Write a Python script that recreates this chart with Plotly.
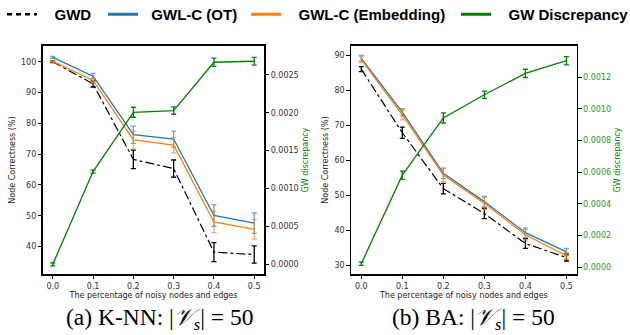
import plotly.graph_objects as go

# ---------------- data ----------------
x_noise = [0.0, 0.1, 0.2, 0.3, 0.4, 0.5]
x_ticks = [0.0, 0.1, 0.2, 0.3, 0.4, 0.5]
x_ticklabels = ["0.0", "0.1", "0.2", "0.3", "0.4", "0.5"]

# (a) K-NN
knn_gwd = [100.0, 92.8, 68.3, 65.3, 38.2, 37.4]
knn_gwd_err = [0.3, 1.0, 3.0, 2.8, 3.1, 2.8]
knn_ot = [101.4, 95.3, 76.3, 74.9, 50.1, 47.6]
knn_ot_err = [0.3, 0.9, 2.8, 2.6, 3.5, 3.3]
knn_emb = [100.1, 93.9, 74.6, 72.9, 48.0, 45.6]
knn_emb_err = [0.3, 0.8, 2.9, 2.5, 3.5, 3.2]
knn_disc = [0.0, 0.001224, 0.002006, 0.002028, 0.002666, 0.002679]
knn_disc_err = [0.00002, 0.00002, 0.000066, 0.000048, 0.000055, 0.00005]

# (b) BA
ba_gwd = [86.1, 67.9, 51.9, 44.8, 36.2, 32.2]
ba_gwd_err = [0.7, 1.6, 1.5, 1.5, 1.4, 1.0]
ba_ot = [89.2, 73.8, 56.3, 48.2, 39.3, 33.8]
ba_ot_err = [0.8, 1.0, 1.5, 1.5, 1.4, 1.0]
ba_emb = [88.8, 73.0, 55.8, 47.7, 38.7, 32.7]
ba_emb_err = [0.8, 1.4, 1.9, 1.7, 1.5, 1.0]
ba_disc = [0.000021, 0.000581, 0.000943, 0.00109, 0.001225, 0.001305]
ba_disc_err = [0.00001, 0.000026, 0.000032, 0.000023, 0.000026, 0.000026]

knn_y_ticks = [40, 50, 60, 70, 80, 90, 100]
knn_y2_ticks = [0.0, 0.0005, 0.0010, 0.0015, 0.0020, 0.0025]
ba_y_ticks = [30, 40, 50, 60, 70, 80, 90]
ba_y2_ticks = [0.0, 0.0002, 0.0004, 0.0006, 0.0008, 0.0010, 0.0012]

series_names = ["GWD", "GWL-C (OT)", "GWL-C (Embedding)", "GW Discrepancy"]
captions = ["(a) K-NN: |<i>𝒱</i><sub><i>s</i></sub>| = 50", "(b) BA: |<i>𝒱</i><sub><i>s</i></sub>| = 50"]

# ---------------- style ----------------
BLUE = "#1f77b4"
ORANGE = "#ff7f0e"
GREEN = "#008000"
TICKFONT = dict(family="DejaVu Sans", size=8, color="#333333")

fig = go.Figure()


def add_panel(xa, ya, ya2, gwd, gwd_e, ot, ot_e, emb, emb_e, disc, disc_e):
    common = dict(x=x_noise, xaxis=xa, showlegend=False, mode="lines", hoverinfo="skip")
    fig.add_trace(go.Scatter(**common, y=gwd, yaxis=ya,
                             line=dict(color="black", width=1.2, dash="dashdot"),
                             error_y=dict(type="data", array=gwd_e, color="black",
                                          thickness=1.3, width=2.5)))
    fig.add_trace(go.Scatter(**common, y=ot, yaxis=ya,
                             line=dict(color=BLUE, width=1.3),
                             error_y=dict(type="data", array=ot_e, color="rgba(31,119,180,0.65)",
                                          thickness=1.3, width=2.5)))
    fig.add_trace(go.Scatter(**common, y=emb, yaxis=ya,
                             line=dict(color=ORANGE, width=1.3),
                             error_y=dict(type="data", array=emb_e, color="rgba(255,127,14,0.65)",
                                          thickness=1.3, width=2.5)))
    fig.add_trace(go.Scatter(**common, y=disc, yaxis=ya2,
                             line=dict(color=GREEN, width=1.3),
                             error_y=dict(type="data", array=disc_e, color=GREEN,
                                          thickness=1.3, width=2.5)))


add_panel("x", "y", "y2", knn_gwd, knn_gwd_err, knn_ot, knn_ot_err,
          knn_emb, knn_emb_err, knn_disc, knn_disc_err)
add_panel("x2", "y3", "y4", ba_gwd, ba_gwd_err, ba_ot, ba_ot_err,
          ba_emb, ba_emb_err, ba_disc, ba_disc_err)

# legend-only entries (shared legend at the top)
legend_styles = [
    dict(color="black", width=2.5, dash="5px,4px"),
    dict(color=BLUE, width=3),
    dict(color=ORANGE, width=3),
    dict(color=GREEN, width=3),
]
legend_ids = ["legend", "legend2", "legend3", "legend4"]
legend_pad = [3, 2, 3, 3]  # non-breaking spaces between symbol and text
for name, st, lid, pad in zip(series_names, legend_styles, legend_ids, legend_pad):
    fig.add_trace(go.Scatter(x=[None], y=[None], mode="lines", name="\u00a0" * pad + name,
                             line=st, xaxis="x", yaxis="y", showlegend=True, legend=lid))

W, H = 630, 335
legend_x_px = [2, 103, 246, 456]
leg_font = dict(family="Liberation Sans", size=15, color="black", weight="bold")
legends = {}
for lid, px in zip(legend_ids, legend_x_px):
    legends[lid] = dict(x=px / W, y=(H - 14.5) / H, xanchor="left", yanchor="middle",
                        orientation="h", font=leg_font, bgcolor="rgba(0,0,0,0)",
                        borderwidth=0, itemwidth=30, itemclick=False, itemdoubleclick=False)

dom_y = [(H - 274.3) / H, (H - 45.7) / H]
ax_common = dict(showline=True, linecolor="black", linewidth=1.3, mirror=False,
                 ticks="outside", ticklen=3.5, tickwidth=1, tickcolor="black",
                 tickfont=TICKFONT, showgrid=False, zeroline=False, automargin=False)

x_common = dict(ax_common, range=[-0.025, 0.525], tickvals=x_ticks, ticktext=x_ticklabels,
                mirror=True,
                title=dict(text="The percentage of noisy nodes and edges",
                           font=dict(family="DejaVu Sans", size=8, color="#222222"),
                           standoff=2))

fig.update_layout(
    width=W, height=H, margin=dict(l=0, r=0, t=0, b=0, autoexpand=False),
    plot_bgcolor="white", paper_bgcolor="white",
    **legends,
    xaxis=dict(x_common, domain=[42.7 / W, 264.3 / W], anchor="y"),
    xaxis2=dict(x_common, domain=[351 / W, 576.7 / W], anchor="y3"),
    yaxis=dict(ax_common, domain=dom_y, anchor="x", range=[31.0, 105.2],
               tickvals=knn_y_ticks, mirror=True,
               title=dict(text="Node Correctness (%)", standoff=4,
                          font=dict(family="DejaVu Sans", size=8, color="#222222"))),
    yaxis2=dict(ax_common, overlaying="y", side="right", anchor="x",
                range=[-0.000131, 0.002884], tickvals=knn_y2_ticks, tickformat=".4f",
                title=dict(text="GW discrepancy", standoff=4,
                           font=dict(family="DejaVu Sans", size=8, color=GREEN))),
    yaxis3=dict(ax_common, domain=dom_y, anchor="x2", range=[27.4, 92.8],
                tickvals=ba_y_ticks, mirror=True,
                title=dict(text="Node Correctness (%)", standoff=4,
                           font=dict(family="DejaVu Sans", size=8, color="#222222"))),
    yaxis4=dict(ax_common, overlaying="y3", side="right", anchor="x2",
                range=[-0.000046, 0.0014], tickvals=ba_y2_ticks, tickformat=".4f",
                tickfont=dict(family="DejaVu Sans", size=8, color="#1f9a1f"),
                title=dict(text="GW discrepancy", standoff=4,
                           font=dict(family="DejaVu Sans", size=8, color=GREEN))),
)

for cap, cx in zip(captions, [159, 473]):
    fig.add_annotation(text=cap, x=cx / W, y=(H - 319) / H, xref="paper", yref="paper",
                       xanchor="center", yanchor="middle", showarrow=False,
                       font=dict(family="Liberation Serif", size=23.5, color="black"))

fig.write_html("out.html", config={"displayModeBar": False, "staticPlot": True},
               post_script="document.body.style.margin='0';document.body.style.overflow='hidden';")
